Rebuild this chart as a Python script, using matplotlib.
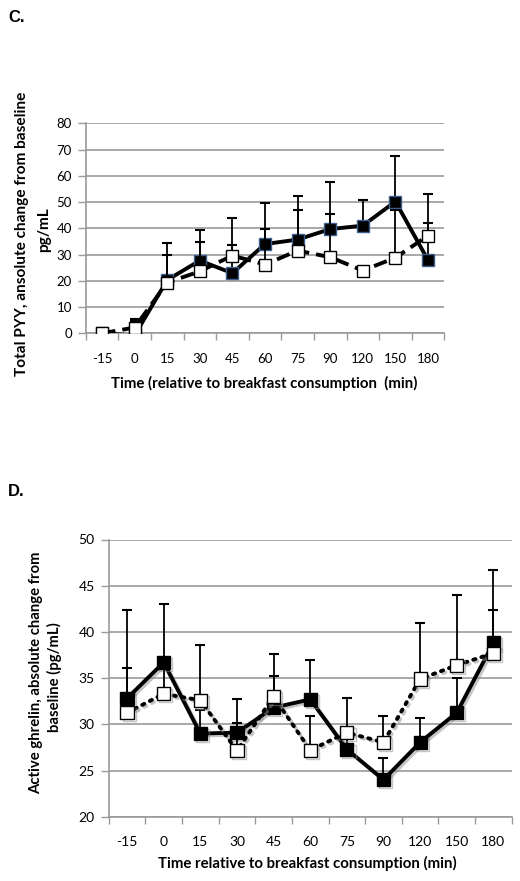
import matplotlib
matplotlib.use("Agg")
import matplotlib.pyplot as plt
import matplotlib.patheffects as pe
import numpy as np

# categories (minutes relative to breakfast)
times = ["-15", "0", "15", "30", "45", "60", "75", "90", "120", "150", "180"]

# panel C: total PYY, change from baseline (pg/mL)
pyy_filled = [0, -0.8, 20.3, 27.7, 22.9, 34.0, 35.7, 39.7, 41.0, 50.2, 27.9]
pyy_filled_se = [0, 6.1, 14.2, 11.5, 21.2, 15.5, 16.7, 17.8, 9.8, 17.4, 14.1]
pyy_open = [0, 2.2, 19.3, 23.6, 29.6, 26.2, 31.5, 29.0, 23.9, 28.8, 37.2]
pyy_open_se = [0, 2.4, 10.5, 11.3, 4.2, 13.4, 15.5, 16.5, 0, 18.2, 16.0]

# panel D: active ghrelin, change from baseline (pg/mL)
ghr_filled = [32.8, 36.7, 29.0, 29.1, 31.8, 32.7, 27.3, 24.0, 28.05, 31.25, 38.8]
ghr_filled_se = [9.6, 6.3, 2.6, 3.6, 3.4, 4.3, 1.2, 2.3, 2.65, 3.75, 7.9]
ghr_open = [31.25, 33.3, 32.6, 27.15, 33.0, 27.2, 29.1, 28.05, 34.9, 36.4, 37.7]
ghr_open_se = [4.85, 3.0, 6.0, 3.0, 4.6, 3.7, 3.7, 2.85, 6.1, 7.6, 4.7]

GRID = "#9a9a9a"
FONT = "Lato"


def style_axes(ax, ylim, ystep, tick_size):
    x = np.arange(len(times))
    ax.set_xlim(-0.5, len(times) - 0.5)
    ax.set_ylim(*ylim)
    ax.set_yticks(np.arange(ylim[0], ylim[1] + 0.1, ystep))
    ax.set_xticks(x)
    ax.set_xticklabels(times)
    ax.set_xticks(np.arange(-0.5, len(times)), minor=True)
    ax.tick_params(axis="x", which="major", length=0, pad=14, labelsize=tick_size)
    ax.tick_params(axis="x", which="minor", length=5, width=1, color=GRID, direction="out")
    ax.tick_params(axis="y", length=6, width=1, color=GRID, pad=4, labelsize=tick_size)
    for lab in ax.get_xticklabels() + ax.get_yticklabels():
        lab.set_fontfamily(FONT)
    ax.grid(axis="y", color=GRID, linewidth=1.2)
    ax.set_axisbelow(True)
    for s in ["top", "right"]:
        ax.spines[s].set_visible(False)
    for s in ["left", "bottom"]:
        ax.spines[s].set_color(GRID)
        ax.spines[s].set_linewidth(1.2)


def series(ax, vals, se, ls, face, edge, ms, lw, z, shadow=False):
    x = np.arange(len(times))
    vals = np.array(vals)
    se = np.array(se)
    ax.errorbar(x, vals, yerr=[np.zeros_like(se), se], fmt="none", ecolor="black",
                elinewidth=1.3, capsize=3.5, capthick=1.5, zorder=z - 1)
    ln, = ax.plot(x, vals, linestyle=ls, color="black", linewidth=lw, marker="s",
                  markersize=ms, markerfacecolor=face, markeredgecolor=edge,
                  markeredgewidth=1.0, zorder=z)
    if shadow:
        ln.set_path_effects([pe.SimpleLineShadow(offset=(1.5, -1.5), shadow_color="0.55",
                                                 alpha=0.5), pe.Normal()])
    return ln


def label(x, y, s, target=None, rot=0, size=10):
    # bold label; if target given, size is tuned so the text spans `target` pixels
    t = fig.text(x / 520, 1 - y / 881, s, rotation=rot, ha="center", va="center",
                 fontsize=size, fontweight="bold", family=FONT)
    if target:
        bb = t.get_window_extent(renderer=fig.canvas.get_renderer())
        span = bb.height if rot else bb.width
        size = size * target / span
        t.set_fontsize(size)
    return size


fig = plt.figure(figsize=(5.2, 8.81), dpi=100)

# ---- panel C ----
axc = fig.add_axes([85.7 / 520, 1 - 333.3 / 881, 358.6 / 520, 210 / 881])
series(axc, pyy_filled, pyy_filled_se, "-", "black", "#3d5f8f", 8.5, 2.8, 3)
series(axc, pyy_open, pyy_open_se, (0, (3.5, 1.8)), "white", "black", 8.5, 2.8, 4)
style_axes(axc, (0, 80), 10, 9.5)
fig.text(0.016, 1 - 18 / 881, "C.", fontsize=12, fontweight="bold",
         family="Liberation Sans", va="center")
fs = label(22, 234, "Total PYY, ansolute change from baseline", 285, rot=90)
label(44, 230, "pg/mL", rot=90, size=fs)
label(264, 383, "Time (relative to breakfast consumption  (min)", 308)

# ---- panel D ----
axd = fig.add_axes([108.7 / 520, 1 - 816.7 / 881, 403 / 520, 277.2 / 881])
series(axd, ghr_filled, ghr_filled_se, "-", "black", "black", 9.5, 2.8, 3, shadow=True)
dl = series(axd, ghr_open, ghr_open_se, (0, (0.6, 1.6)), "white", "black", 9.5, 2.8, 4,
            shadow=True)
dl.set_dash_capstyle("round")
style_axes(axd, (20, 50), 5, 10)
fig.text(0.016, 1 - 492 / 881, "D.", fontsize=12, fontweight="bold",
         family="Liberation Sans", va="center")
fs = label(36, 673, "Active ghrelin, absolute change from", 243, rot=90)
label(54, 677, "baseline (pg/mL)", rot=90, size=fs)
label(307, 863, "Time relative to breakfast consumption (min)", 301)

fig.savefig("out.png", dpi=100)
